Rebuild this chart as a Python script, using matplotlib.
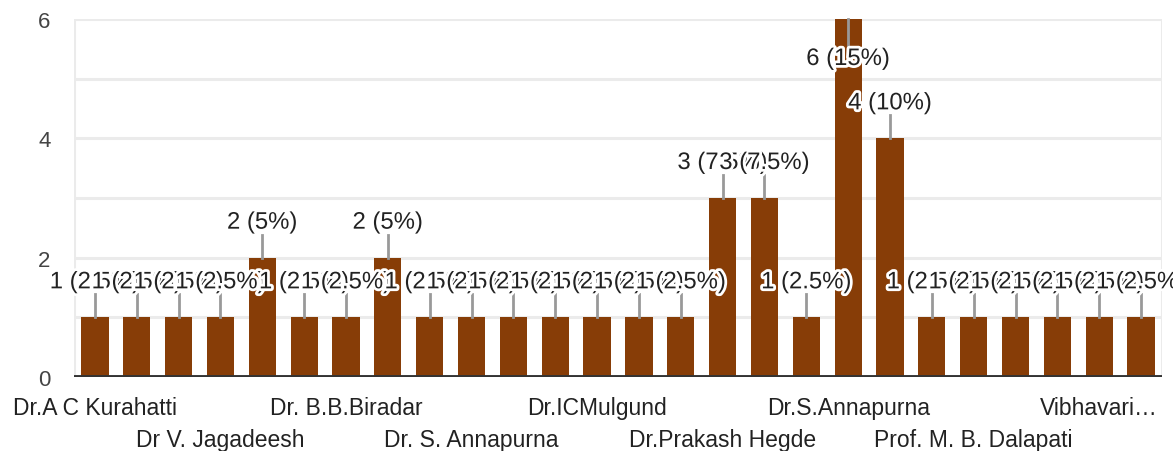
import matplotlib
matplotlib.use("Agg")
import matplotlib.pyplot as plt
import matplotlib.patheffects as pe

categories = ["Dr.A C Kurahatti", "", "", "Dr V. Jagadeesh", "", "",
              "Dr. B.B.Biradar", "", "", "Dr. S. Annapurna", "", "",
              "Dr.ICMulgund", "", "", "Dr.Prakash Hegde", "", "",
              "Dr.S.Annapurna", "", "", "Prof. M. B. Dalapati", "", "",
              "Vibhavari…", ""]
values = [1, 1, 1, 1, 2, 1, 1, 2, 1, 1, 1, 1, 1, 1, 1, 3, 3, 1, 6, 4, 1, 1, 1, 1, 1, 1]
yticks = [0, 2, 4, 6]

total = sum(values)
W, H = 1173, 452
fig = plt.figure(figsize=(W / 100, H / 100), dpi=100)
ax = fig.add_axes([74 / W, (H - 378) / H, (1162 - 74) / W, (378 - 20) / H])

FONT = ["Liberation Sans", "DejaVu Sans"]
BAR = "#873d07"
x = list(range(len(values)))
ax.bar(x, values, width=0.65, color=BAR, zorder=2)
ax.set_xlim(-0.5, len(values) - 0.5)
ax.set_ylim(0, 6)

for g in range(0, 7):
    ax.axhline(g, color="#ebebeb", lw=2.2, zorder=0)
ax.axhline(0, color="#333333", lw=2.8, zorder=3)
for s in ["top", "right", "left", "bottom"]:
    ax.spines[s].set_visible(False)
ax.axvline(-0.5, color="#ebebeb", lw=2.2, zorder=0)
ax.axvline(len(values) - 0.5, color="#ebebeb", lw=2.2, zorder=0)

ax.set_yticks(yticks)
ax.set_yticklabels([str(t) for t in yticks], fontsize=16, color="#444444", family=FONT)
ax.tick_params(axis="y", length=0, pad=17)

shown = [i for i, c in enumerate(categories) if c]
ax.set_xticks(shown)
ax.set_xticklabels([categories[i] for i in shown], fontsize=16.5, color="#222222", family=FONT)
ax.tick_params(axis="x", length=0, pad=14)
for k, t in enumerate(ax.xaxis.get_major_ticks()):
    if k % 2 == 1:
        t.set_pad(37)

# data labels with leader lines
px_per_unit = (378 - 20) / 6.0
halo = [pe.withStroke(linewidth=4, foreground="white")]
for i, v in enumerate(values):
    pct = v / total * 100
    ps = f"{pct:.1f}".rstrip("0").rstrip(".")
    label = f"{v} ({ps}%)"
    if v >= 6:
        y0 = v
        y1 = v - 27 / px_per_unit
        yt = v - 40 / px_per_unit
    else:
        y0 = v
        y1 = v + 23 / px_per_unit
        yt = v + 35 / px_per_unit
    ax.plot([i, i], [y0, y1], color="#999999", lw=2, zorder=4, clip_on=False)
    ax.text(i, yt, label, ha="center", va="center", fontsize=17.2, color="#222222",
            family=FONT, path_effects=halo, zorder=5, clip_on=False)

fig.savefig("out.png", dpi=100, facecolor="white")
